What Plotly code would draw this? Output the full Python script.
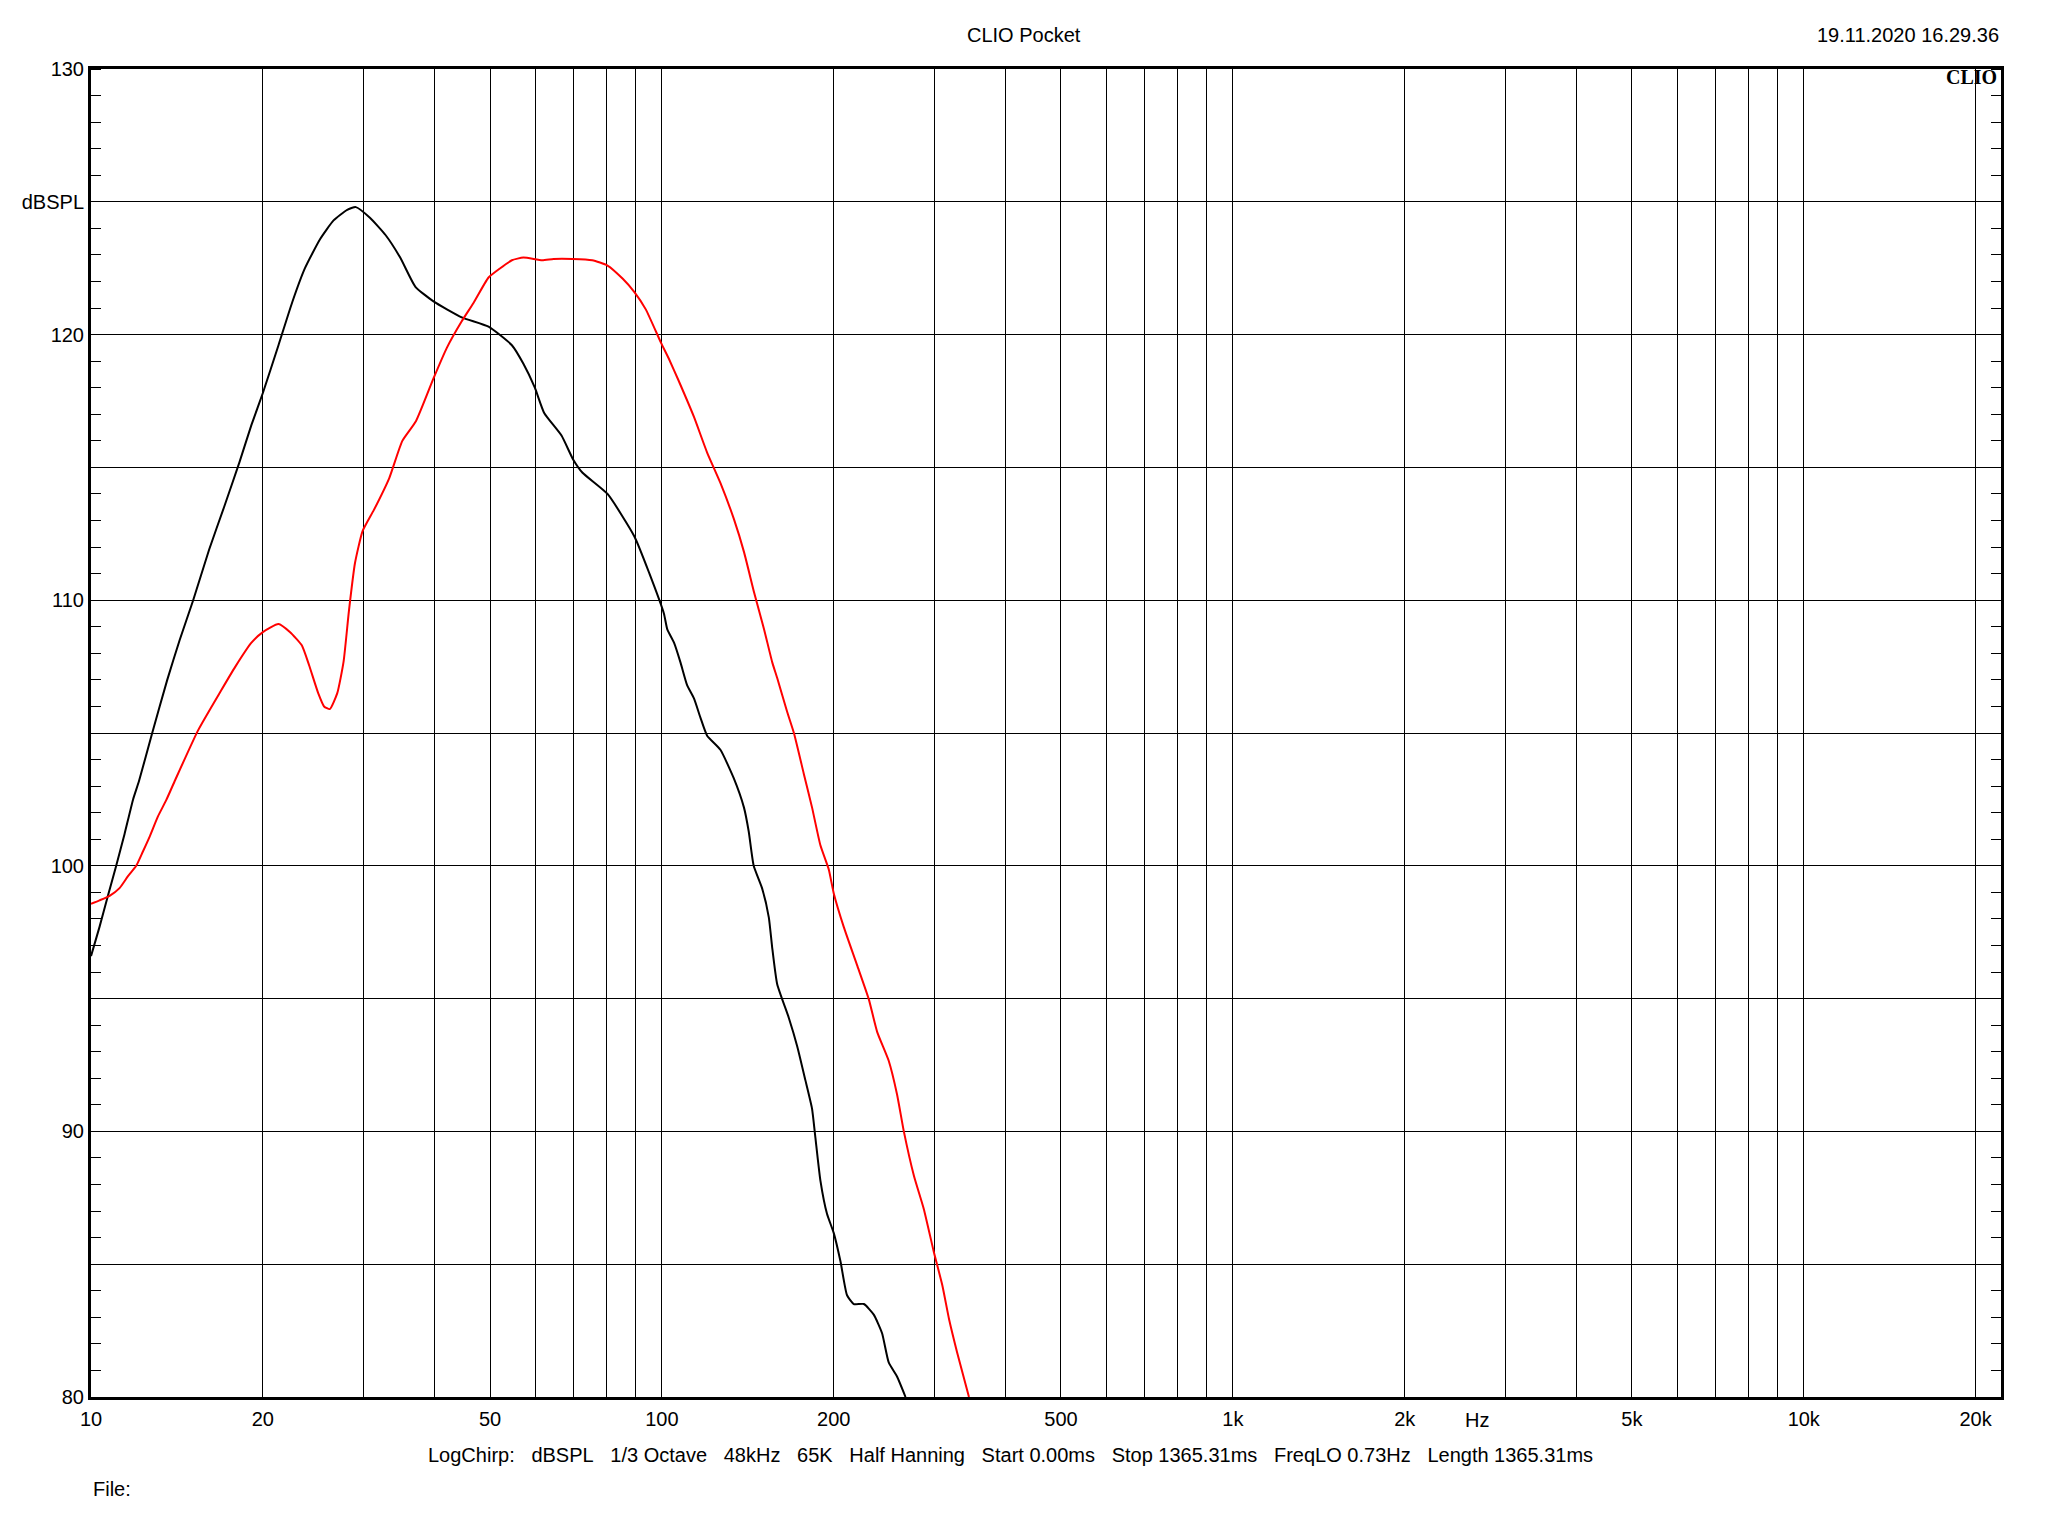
import plotly.graph_objects as go

# ---- data ----
black_freq = [10.0, 10.35, 10.7, 11.07, 11.45, 11.85, 12.14, 12.8, 13.6, 14.3, 15.1, 16.1, 17.1, 18.2,
              19.1, 20.0, 21.3, 22.5, 23.7, 25.2, 26.6, 28.1, 29.1, 30.8, 32.8, 34.8, 37.0, 39.8,
              44.6, 49.7, 54.6, 57.2, 59.9, 62.2, 66.7, 69.9, 72.6, 80.3, 89.5, 95.1, 100.8, 102.2,
              105.0, 107.8, 110.7, 113.8, 116.8, 120.0, 126.6, 133.6, 139.2, 141.9, 144.8, 149.8,
              153.9, 155.9, 159.2, 166.8, 172.6, 178.3, 183.2, 185.7, 189.5, 194.6, 200.0, 205.5,
              211.0, 216.8, 225.8, 235.0, 243.0, 249.6, 258.1, 267.1]
black_db = [96.6, 97.7, 98.85, 100.0, 101.2, 102.5, 103.2, 105.0, 107.0, 108.5, 110.0, 111.9, 113.5, 115.2,
            116.6, 117.8, 119.6, 121.2, 122.5, 123.6, 124.3, 124.7, 124.8, 124.4, 123.75, 122.9, 121.8, 121.25,
            120.65, 120.3, 119.6, 118.9, 118.0, 117.05, 116.2, 115.3, 114.8, 114.0, 112.4, 111.0, 109.5, 108.9,
            108.4, 107.65, 106.8, 106.3, 105.58, 104.9, 104.37, 103.3, 102.2, 101.3, 100.0, 99.15,
            98.06, 96.98, 95.54, 94.28, 93.2, 91.94, 90.86, 89.77, 88.15, 86.9, 86.17, 85.1,
            83.83, 83.5, 83.5, 83.1, 82.4, 81.3, 80.77, 80.0]

red_freq = [10.0, 10.35, 10.78, 11.22, 11.6, 12.0, 12.33, 12.67, 13.1, 13.55, 14.05, 15.4, 16.9, 17.9,
            19.1, 20.0, 21.3, 22.3, 23.4, 24.1, 25.0, 25.6, 26.2, 27.0, 27.7, 28.3, 29.0, 29.9, 31.3,
            33.3, 35.1, 37.1, 39.8, 42.0, 44.6, 46.8, 49.7, 52.1, 54.6, 57.2, 61.7, 64.6, 69.8, 75.5,
            80.3, 85.4, 89.5, 93.7, 99.6, 102.8, 106.8, 113.8, 120.0, 126.7, 133.7, 139.3, 145.0,
            151.0, 156.1, 159.2, 165.7, 170.3, 177.2, 183.2, 189.5, 196.0, 200.0, 208.2, 219.7,
            230.3, 238.3, 249.6, 258.1, 265.3, 276.3, 287.6, 299.5, 309.9, 318.4, 329.0, 345.0]
red_db = [98.57, 98.7, 98.87, 99.16, 99.6, 100.0, 100.54, 101.1, 101.86, 102.48, 103.24, 105.1, 106.6, 107.5,
          108.4, 108.8, 109.1, 108.8, 108.3, 107.55, 106.5, 106.0, 105.9, 106.5, 107.7, 109.6, 111.4, 112.6, 113.4,
          114.6, 116.0, 116.75, 118.35, 119.5, 120.5, 121.2, 122.15, 122.5, 122.8, 122.9, 122.8, 122.85, 122.85, 122.8,
          122.6, 122.1, 121.6, 120.95, 119.7, 119.1, 118.3, 116.9, 115.56, 114.4, 113.05, 111.8, 110.3,
          108.9, 107.65, 107.07, 105.8, 105.0, 103.47, 102.2, 100.77, 99.86, 98.96, 97.7, 96.26,
          94.98, 93.74, 92.66, 91.4, 90.0, 88.33, 87.07, 85.45, 84.2, 82.93, 81.67, 80.0]

x_grid_vals = [10, 20, 30, 40, 50, 60, 70, 80, 90,
               100, 200, 300, 400, 500, 600, 700, 800, 900,
               1000, 2000, 3000, 4000, 5000, 6000, 7000, 8000, 9000,
               10000, 20000]
x_label_map = {10: "10", 20: "20", 50: "50", 100: "100", 200: "200", 500: "500",
               1000: "1k", 2000: "2k", 5000: "5k", 10000: "10k", 20000: "20k"}
y_grid_vals = [80, 85, 90, 95, 100, 105, 110, 115, 120, 125, 130]
y_label_map = {80: "80", 90: "90", 100: "100", 110: "110", 120: "120", 125: "dBSPL", 130: "130"}

title_text = "CLIO Pocket"
date_text = "19.11.2020 16.29.36"
info_items = ["LogChirp:", "dBSPL", "1/3 Octave", "48kHz", "65K", "Half Hanning", "Start 0.00ms",
              "Stop 1365.31ms", "FreqLO 0.73Hz", "Length 1365.31ms"]

FONT = "Liberation Sans, Arial, sans-serif"
NB = "\u00a0"
BODY = 8  # default page body margin in the browser

fig = go.Figure()
fig.add_trace(go.Scatter(x=black_freq, y=black_db, mode="lines",
                         line=dict(color="#000000", width=2, shape="spline", smoothing=0.5),
                         hoverinfo="skip", showlegend=False))
fig.add_trace(go.Scatter(x=red_freq, y=red_db, mode="lines",
                         line=dict(color="#ff0000", width=2, shape="spline", smoothing=0.5),
                         hoverinfo="skip", showlegend=False))

fig.update_layout(
    width=2048, height=1536,
    margin=dict(l=91 - BODY, r=47 + BODY, t=69 - BODY, b=139 + BODY, autoexpand=False),
    paper_bgcolor="white", plot_bgcolor="white",
    font=dict(family=FONT, size=20, color="black"),
    showlegend=False,
    xaxis=dict(type="log", range=[1, 4.3455],
               tickvals=x_grid_vals,
               ticktext=[x_label_map.get(v, "") for v in x_grid_vals],
               showgrid=True, gridcolor="#000000", gridwidth=1,
               showline=True, linecolor="#000000", linewidth=3, mirror=True,
               ticks="", ticklabelstandoff=2, zeroline=False,
               tickfont=dict(family=FONT, size=20, color="black")),
    yaxis=dict(range=[80, 130],
               tickvals=y_grid_vals,
               ticktext=[y_label_map.get(v, "") for v in y_grid_vals],
               showgrid=True, gridcolor="#000000", gridwidth=1,
               showline=True, linecolor="#000000", linewidth=3, mirror="allticks",
               ticks="", ticklabelstandoff=0, zeroline=False,
               minor=dict(dtick=1, tick0=80, ticks="inside", ticklen=10,
                          tickcolor="#000000", tickwidth=1, showgrid=False),
               tickfont=dict(family=FONT, size=20, color="black")),
)

annotations = [
    dict(text=title_text, xref="paper", yref="paper", x=(1024 - 91) / 1910, y=(1397 - 35) / 1328,
         xanchor="center", yanchor="middle", showarrow=False, font=dict(size=20)),
    dict(text=date_text, xref="paper", yref="paper", x=1.0, y=(1397 - 35) / 1328,
         xanchor="right", yanchor="middle", showarrow=False, font=dict(size=20)),
    dict(text="<b>CLIO</b>", xref="paper", yref="paper", x=0.999, y=(1397 - 77) / 1328,
         xanchor="right", yanchor="middle", showarrow=False,
         font=dict(family="Liberation Serif, Times New Roman, serif", size=20, color="black")),
    dict(text="Hz", xref="paper", yref="paper", x=(1477 - 91.4) / 1910, y=(1397 - 1420) / 1328,
         xanchor="center", yanchor="middle", showarrow=False, font=dict(size=20)),
    dict(text=(NB * 3).join(info_items), xref="paper", yref="paper", x=(1011 - 91.4) / 1910,
         y=(1397 - 1455) / 1328, xanchor="center", yanchor="middle", showarrow=False,
         font=dict(size=20)),
    dict(text="File:", xref="paper", yref="paper", x=0.0, y=(1397 - 1489) / 1328,
         xanchor="left", yanchor="middle", showarrow=False, font=dict(size=20)),
]
fig.update_layout(annotations=annotations)

fig.write_html("out.html", config={"displayModeBar": False})
